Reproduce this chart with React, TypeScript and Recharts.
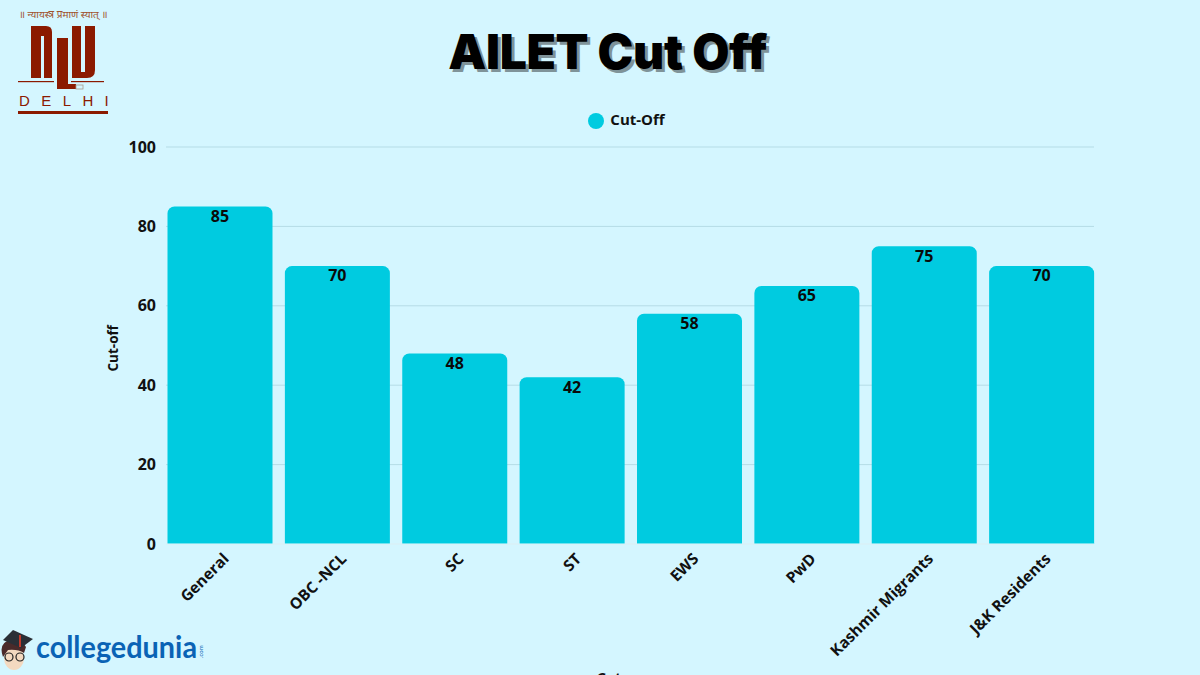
import { BarChart, Bar, XAxis, YAxis, CartesianGrid, Legend, LabelList } from "recharts";

const categories = ["General", "OBC -NCL", "SC", "ST", "EWS", "PwD", "Kashmir Migrants", "J&K Residents"];
const cutOffs = [85, 70, 48, 42, 58, 65, 75, 70];
const yTicks = [0, 20, 40, 60, 80, 100];

const chartData = categories.map((name, i) => ({ name, cutOff: cutOffs[i] }));

const FONT = "'Open Sans', sans-serif";
const MAROON = "#8b1a00";

function NluLogo() {
  return (
    <svg width={130} height={120} style={{ position: "absolute", left: 0, top: 0 }}>
      <text x={19} y={18} fontFamily="'Noto Sans', sans-serif" fontSize={10} fill="#a0522d">
        ॥ न्यायस्त्र प्रमाणं स्यात् ॥
      </text>
      <path d="M31 78V26H46Q52 26 52 32V78H44V36H41V78Z" fill={MAROON} />
      <path d="M57 38H68V84H76V89H57Z" fill={MAROON} />
      <path d="M72 26H81V72H85V26H95V70Q95 78 87 78H72Z" fill={MAROON} />
      <rect x={18} y={81} width={36} height={1.2} fill={MAROON} />
      <rect x={71} y={81} width={33} height={1.2} fill={MAROON} />
      <rect x={76} y={85} width={7} height={4} fill="none" stroke="#a98" strokeWidth={0.8} />
      <text x={19} y={106} fontFamily="'Liberation Sans', sans-serif" fontSize={15} fill={MAROON} letterSpacing={11.4}>
        DELHI
      </text>
      <rect x={18} y={111} width={90} height={3} fill={MAROON} />
    </svg>
  );
}

function CollegeduniaLogo() {
  return (
    <svg width={210} height={50} style={{ position: "absolute", left: 0, top: 625 }}>
      <ellipse cx={14} cy={33} rx={10} ry={12} fill="#f3d9c0" />
      <path d="M3 32Q-2 18 10 15Q22 14 26 22L24 28Q18 24 8 25Z" fill="#4a2a2a" />
      <path d="M13 5L33 14L21 23L3 15Z" fill="#2b2f36" />
      <rect x={19} y={10} width={2} height={12} fill="#c0392b" />
      <circle cx={9} cy={32} r={4} fill="none" stroke="#222" strokeWidth={1.2} />
      <circle cx={20} cy={32} r={4} fill="none" stroke="#222" strokeWidth={1.2} />
      <text x={36} y={33} fontFamily="Lato, sans-serif" fontSize={30} fontWeight={700} fill="#0a63b5" textLength={161} lengthAdjust="spacingAndGlyphs">
        collegedunia
      </text>
      <text x={0} y={0} transform="translate(203,33) rotate(-90)" fontFamily="Lato, sans-serif" fontSize={6} fill="#0a63b5">
        .com
      </text>
    </svg>
  );
}

export default function App() {
  return (
    <div style={{ position: "absolute", left: 0, top: 0, width: 1200, height: 675, background: "#d4f6ff", overflow: "hidden" }}>
      <div
        style={{
          position: "absolute",
          left: 0,
          width: 1215,
          top: 19,
          textAlign: "center",
          fontFamily: "Inter, sans-serif",
          fontWeight: 900,
          fontSize: 48,
          lineHeight: "66px",
          letterSpacing: -0.3,
          color: "#000",
          textShadow: "3px 3px 0 #7f9399",
        }}
      >
        AILET Cut Off
      </div>
      <BarChart
        width={1200}
        height={675}
        data={chartData}
        barSize={105}
        margin={{ top: 127, right: 106, bottom: 31, left: 100 }}
      >
        <CartesianGrid vertical={false} stroke="#b5dce6" strokeWidth={1} />
        <XAxis
          dataKey="name"
          interval={0}
          height={100}
          padding={{ left: -4.5, right: -6.5 }}
          axisLine={{ stroke: "#ecfbff" }}
          tickLine={false}
          angle={-45}
          textAnchor="end"
          dx={2}
          dy={0}
          tick={{ fill: "#111", fontFamily: FONT, fontSize: 15.5, fontWeight: 700 }}
          label={{ value: "Category", position: "insideBottom", dy: 44, fill: "#111", fontFamily: FONT, fontSize: 15, fontWeight: 700 }}
        />
        <YAxis
          width={66}
          domain={[0, 100]}
          ticks={yTicks}
          axisLine={false}
          tickLine={false}
          tickMargin={4}
          tick={{ fill: "#111", fontFamily: FONT, fontSize: 16, fontWeight: 700 }}
          label={{ value: "Cut-off", angle: -90, position: "insideLeft", dx: 8, dy: 26, fill: "#111", fontFamily: FONT, fontSize: 13.5, fontWeight: 700 }}
        />
        <Legend
          verticalAlign="top"
          iconType="circle"
          iconSize={16}
          wrapperStyle={{ position: "absolute", top: 109, left: 0, width: 1263, fontFamily: FONT, fontSize: 15, fontWeight: 700 }}
          formatter={(value) => <span style={{ color: "#111", marginLeft: 2 }}>{value}</span>}
        />
        <Bar dataKey="cutOff" name="Cut-Off" fill="#00cbe0" radius={[7, 7, 0, 0]} isAnimationActive={false}>
          <LabelList
            dataKey="cutOff"
            position="insideTop"
            offset={4}
            style={{ fill: "#0a0a0a", fontFamily: FONT, fontSize: 16, fontWeight: 700 }}
          />
        </Bar>
      </BarChart>
      <NluLogo />
      <CollegeduniaLogo />
    </div>
  );
}
